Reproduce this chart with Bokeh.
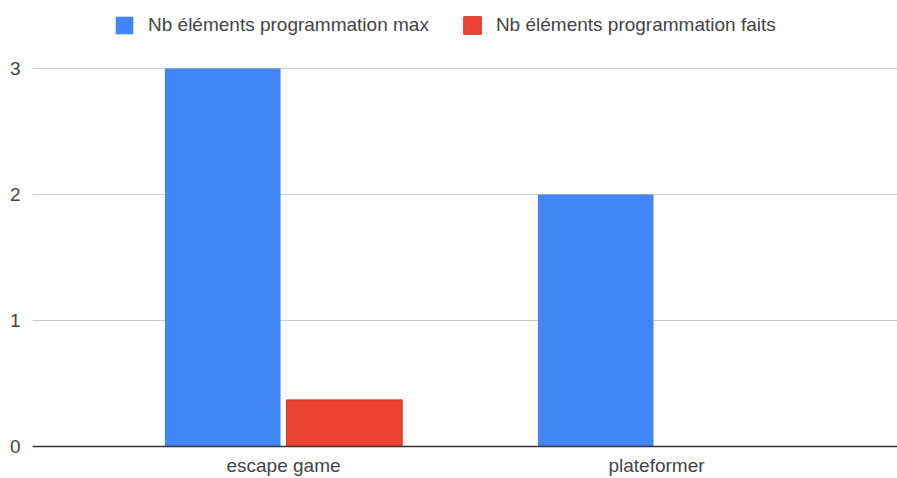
from bokeh.plotting import figure
from bokeh.models import Range1d, FixedTicker, Legend, LegendItem, ColumnDataSource
from bokeh.embed import file_html
from bokeh.resources import INLINE

categories = ["escape game", "plateformer"]
max_vals = [3, 2]
faits_vals = [0.37, 0]
y_ticks = [0, 1, 2, 3]

series_names = ["Nb éléments programmation max", "Nb éléments programmation faits"]
colors = ["#4285F4", "#EA4335"]

centers = [i + 0.5 for i in range(len(categories))]
src = ColumnDataSource(dict(
    xb=[c - 0.163 for c in centers],
    xr=[c + 0.163 for c in centers],
    maxv=max_vals,
    faits=faits_vals,
))

FONT = "Liberation Sans"

p = figure(width=897, height=478, output_backend="svg", toolbar_location=None,
           x_range=Range1d(-0.173, 2.146), y_range=Range1d(0, 3.54),
           min_border_left=32, min_border_right=0, min_border_bottom=30, min_border_top=0)
p.outline_line_color = None
p.background_fill_color = "white"

rb = p.vbar(x="xb", top="maxv", width=0.31, source=src, fill_color=colors[0], line_color=None)
rr = p.vbar(x="xr", top="faits", width=0.31, source=src, fill_color=colors[1],
            line_color="#D93025", line_width=1)

p.xaxis.ticker = FixedTicker(ticks=centers)
p.xaxis.major_label_overrides = {c: n for c, n in zip(centers, categories)}
p.xaxis.major_tick_line_color = None
p.xaxis.minor_tick_line_color = None
p.xaxis.axis_line_color = "#333333"
p.xaxis.axis_line_width = 1.5
p.xaxis.major_label_text_font = FONT
p.xaxis.major_label_text_font_size = "19px"
p.xaxis.major_label_text_color = "#444444"
p.xaxis.major_label_standoff = 2

p.yaxis.ticker = FixedTicker(ticks=y_ticks)
p.yaxis.axis_line_color = None
p.yaxis.major_tick_line_color = None
p.yaxis.minor_tick_line_color = None
p.yaxis.major_label_text_font = FONT
p.yaxis.major_label_text_font_size = "19px"
p.yaxis.major_label_text_color = "#444444"
p.yaxis.major_label_standoff = 6

p.xgrid.grid_line_color = None
p.ygrid.ticker = FixedTicker(ticks=y_ticks)
p.ygrid.grid_line_color = "#CCCCCC"
p.ygrid.grid_line_width = 1

legend = Legend(items=[LegendItem(label=series_names[0], renderers=[rb]),
                       LegendItem(label=series_names[1], renderers=[rr])],
                orientation="horizontal", location=(81, 410),
                label_text_font=FONT, label_text_font_size="19px",
                label_text_color="#444444", glyph_width=22, glyph_height=22,
                label_height=22, spacing=32, label_standoff=13, padding=0, margin=0,
                border_line_color=None, background_fill_alpha=0)
p.add_layout(legend, "center")

open("out.html", "w").write(file_html(p, INLINE))
